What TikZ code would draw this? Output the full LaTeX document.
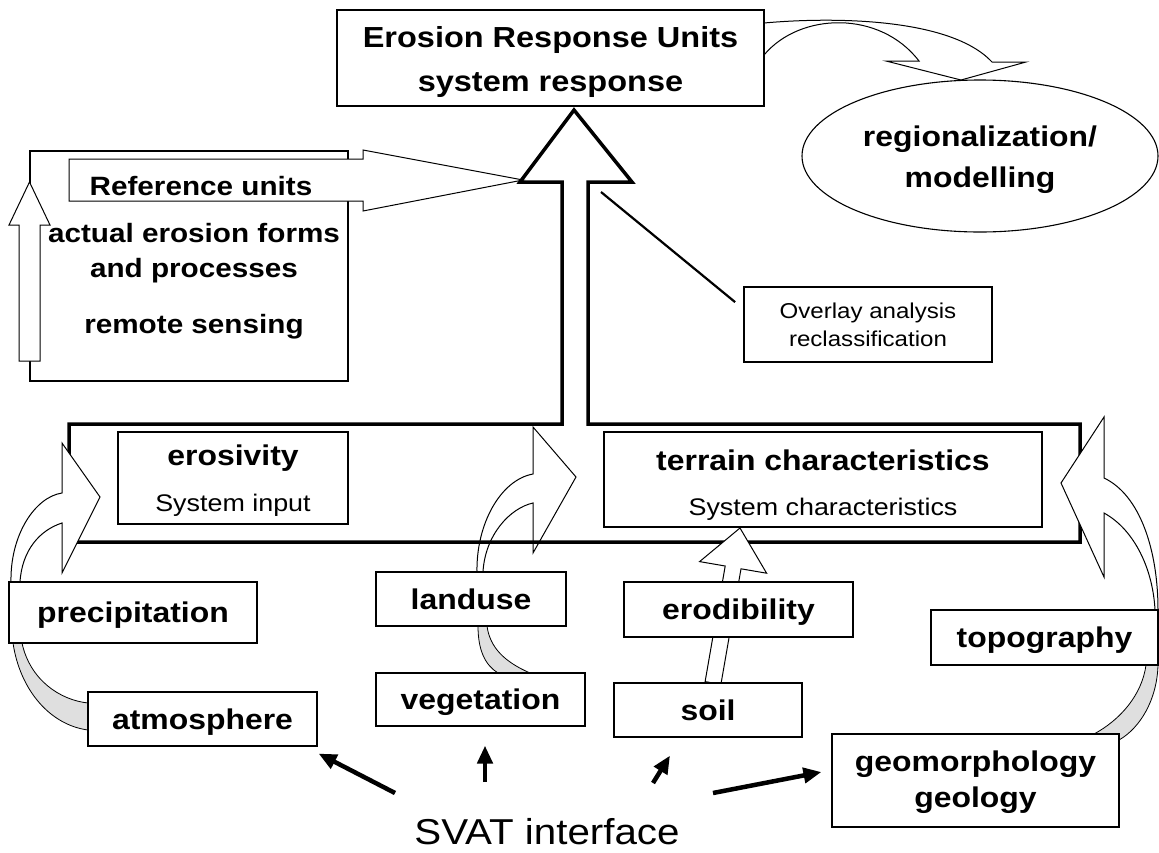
\documentclass[tikz,border=0pt]{standalone}
\usepackage{fontspec}
\setmainfont{Liberation Sans}[FakeStretch=1.12]
\usetikzlibrary{arrows.meta,shapes.geometric}

\begin{document}
\begin{tikzpicture}[x=1pt, y=-1pt, box/.style={draw, line width=1.1pt, fill=white, inner sep=0pt, align=center, font=\fontsize{28.5}{36}\selectfont\bfseries}, lbl/.style={box, text height=26pt, text depth=6pt}, hollow/.style={draw, line width=1pt, fill=white, line join=miter}, band/.style={draw, line width=0.8pt, fill=gray!25}, frame/.style={draw, line width=3.5pt, line join=miter}, svatarrow/.style={line width=4.5pt, -{Triangle[length=18pt, width=15pt]}}]

	\useasboundingbox (0,0) rectangle (1159,852);

	\fill[white] (0,0) rectangle (1159,852);

	\draw[line width=1.1pt] (30,151) rectangle (348,381);

	\draw[hollow] (19,361) -- (19,225) -- (9,225) -- (29.5,182) -- (50,225) -- (40,225) -- (40,361) -- cycle;

	\draw[hollow] (69,159) -- (363,159) -- (363,150) -- (523,180) -- (363,211) -- (363,201) -- (69,201) -- cycle;

	\node[font=\fontsize{26.5}{30}\selectfont\bfseries] (refunits) at (201,186) {Reference units};

	\node[align=center, font=\fontsize{26.5}{35}\selectfont\bfseries] (forms) at (194,281.5) {actual erosion forms\\and processes\\[21pt]remote sensing};

	\draw[hollow] (477,572) .. controls (476,525) and (500,480) .. (533,474) -- (533,427) -- (576,477) -- (533,553) -- (533,503) .. controls (510,508) and (485,535) .. (483,572) -- cycle;

	\draw[frame] (562,182) -- (562,424) -- (69,424) -- (69,542) -- (1080,542) -- (1080,424) -- (588,424) -- (588,182) -- (632,182) -- (574,110) -- (520,182) -- cycle;

	\draw[hollow] (11,582) .. controls (10,535) and (35,497) .. (62,493) -- (62,443) -- (100,497) -- (62,573) -- (62,523) .. controls (40,530) and (22,550) .. (20,582) -- cycle;

	\draw[hollow] (1158,610) .. controls (1158,550) and (1140,495) .. (1104,478) -- (1104,417) -- (1061,483) -- (1104,577) -- (1104,513) .. controls (1135,530) and (1153,570) .. (1155,610) -- cycle;

	\draw[hollow] (764,23) .. controls (830,17) and (950,17) .. (992,62) -- (1026,62) -- (961,80) -- (886,61) -- (919,61) .. controls (880,10) and (800,12) .. (764,55) -- cycle;

	\draw[band] (13,643) .. controls (20,690) and (50,725) .. (88,730) -- (88,703) .. controls (60,700) and (30,680) .. (22,643) -- cycle;

	\draw[band] (478,626) .. controls (478,650) and (485,665) .. (498,673) -- (530,673) .. controls (505,662) and (490,648) .. (487,626) -- cycle;

	\draw[band] (1158,665) .. controls (1157,700) and (1140,728) .. (1119,740) -- (1119,734) -- (1094,734) .. controls (1120,720) and (1142,695) .. (1146,665) -- cycle;

	\draw[hollow] (705.1,681.6) -- (725.2,566.0) -- (699.6,561.6) -- (740,528) -- (766.6,573.2) -- (741.0,568.8) -- (720.9,684.4) -- cycle;

	\node[box, minimum width=427pt, minimum height=96pt, font=\fontsize{29}{44}\selectfont\bfseries] (eru) at (550.5,58) {\rule{0pt}{30pt}Erosion Response Units\\system response};

	\node[draw, ellipse, line width=1.1pt, fill=white, minimum width=356pt, minimum height=152pt, align=center, font=\fontsize{28.5}{41}\selectfont\bfseries] (regio) at (980,156) {\rule{0pt}{29pt}regionalization/\\modelling};

	\node[box, line width=1.8pt, minimum width=248pt, minimum height=75pt, font=\fontsize{21.5}{28}\selectfont\mdseries] (overlay) at (868,324.5) {Overlay analysis\\reclassification};

	\node[box, minimum width=230pt, minimum height=92pt, font=\fontsize{28.5}{46}\selectfont\bfseries] (erosivity) at (233,478) {\rule{0pt}{25pt}erosivity\\{\fontsize{24}{46}\selectfont\mdseries System input}};

	\node[box, minimum width=438pt, minimum height=95pt, font=\fontsize{28.5}{45}\selectfont\bfseries] (terrain) at (823,479.5) {\rule{0pt}{31pt}terrain characteristics\\{\fontsize{24}{45}\selectfont\mdseries System characteristics}};

	\node[lbl, minimum width=248pt, minimum height=61pt] (precip) at (133,612.5) {precipitation};

	\node[lbl, minimum width=190pt, minimum height=54pt] (landuse) at (471,599) {landuse};

	\node[lbl, minimum width=229pt, minimum height=55pt] (erodib) at (738.5,609.5) {erodibility};

	\node[lbl, minimum width=227pt, minimum height=55pt] (topo) at (1044.5,637.5) {topography};

	\node[lbl, minimum width=229pt, minimum height=54pt] (atmos) at (202.5,719) {atmosphere};

	\node[lbl, minimum width=209pt, minimum height=53pt] (veget) at (480.5,699.5) {vegetation};

	\node[lbl, minimum width=188pt, minimum height=54pt] (soil) at (708,710) {soil};

	\node[box, minimum width=287pt, minimum height=93pt] (geomorph) at (975.5,780.5) {\rule{0pt}{25pt}geomorphology\\geology};

	\node[font=\fontsize{36}{40}\selectfont] (svat) at (547,832) {SVAT interface};

	\coordinate (ovstart) at (601,192);

	\draw[line width=2.2pt] (ovstart) -- ([xshift=-8pt,yshift=-16pt]overlay.north west);

	\coordinate (ta) at (395,793);

	\coordinate (tv) at (485,782);

	\coordinate (ts) at (653,783);

	\coordinate (tg) at (713,793);

	\draw[svatarrow] (ta) -- ([xshift=1pt,yshift=-7pt]atmos.south east);

	\draw[svatarrow] (tv) -- ([xshift=4.5pt,yshift=-19pt]veget.south);

	\draw[svatarrow] (ts) -- ([xshift=-38pt,yshift=-18pt]soil.south);

	\draw[svatarrow] (tg) -- ([xshift=-10pt,yshift=8.5pt]geomorph.west);

\end{tikzpicture}
\end{document}
